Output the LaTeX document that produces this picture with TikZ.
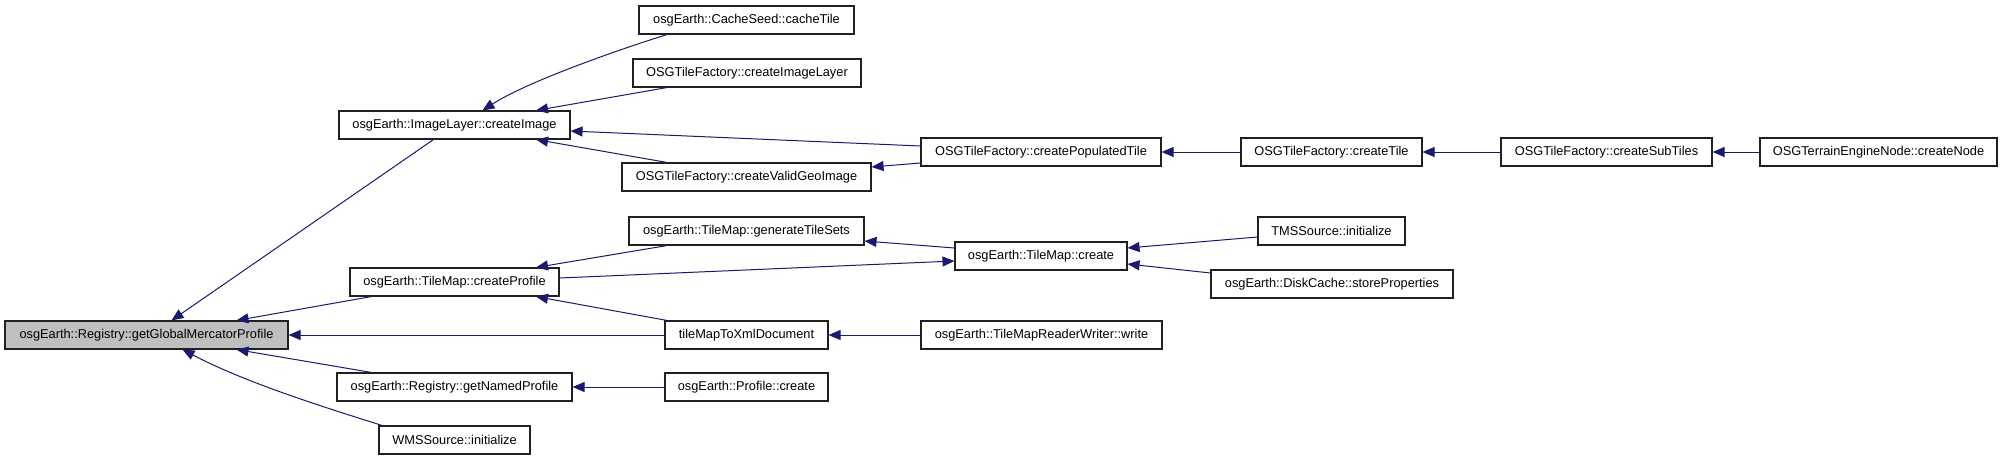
\documentclass[tikz,border=0pt]{standalone}
\usepackage{fontspec}
\setmainfont{Liberation Sans}
\usetikzlibrary{arrows.meta}
\definecolor{edgeblue}{HTML}{191970}
\definecolor{hlgray}{HTML}{BFBFBF}
\definecolor{boxline}{HTML}{202020}
\tikzset{
  fn/.style={draw=boxline, line width=1.1pt, rectangle, minimum height=28pt, inner sep=0pt, font=\fontsize{12.8}{14}\selectfont},
  fnhl/.style={fn, fill=hlgray},
  call/.style={draw=edgeblue, line width=1pt, -{Triangle[length=12pt,width=10pt]}}
}
\begin{document}
\begin{tikzpicture}[x=1pt,y=-1pt]
\useasboundingbox (0,0) rectangle (2003,460);
% column 0
\node[fnhl, minimum width=283pt] (gm) at (146.5,335) {osgEarth::Registry::getGlobalMercatorProfile};
% column 1
\node[fn, minimum width=231pt] (ci) at (454.5,125) {osgEarth::ImageLayer::createImage};
\node[fn, minimum width=209pt] (cp) at (454.5,282) {osgEarth::TileMap::createProfile};
\node[fn, minimum width=235pt] (gn) at (454.5,387) {osgEarth::Registry::getNamedProfile};
\node[fn, minimum width=151pt] (wms) at (454.5,440) {WMSSource::initialize};
% column 2
\node[fn, minimum width=215pt] (ct) at (746.5,20) {osgEarth::CacheSeed::cacheTile};
\node[fn, minimum width=228pt] (cil) at (747,73) {OSGTileFactory::createImageLayer};
\node[fn, minimum width=249pt] (cvg) at (746.5,177) {OSGTileFactory::createValidGeoImage};
\node[fn, minimum width=235pt] (gts) at (746.5,231) {osgEarth::TileMap::generateTileSets};
\node[fn, minimum width=163pt] (tmx) at (746.5,335) {tileMapToXmlDocument};
\node[fn, minimum width=163pt] (pc) at (746.5,387) {osgEarth::Profile::create};
% column 3
\node[fn, minimum width=240pt] (cpt) at (1041,152) {OSGTileFactory::createPopulatedTile};
\node[fn, minimum width=172pt] (tmc) at (1041,256) {osgEarth::TileMap::create};
\node[fn, minimum width=241pt] (wr) at (1041.5,335) {osgEarth::TileMapReaderWriter::write};
% column 4
\node[fn, minimum width=181pt] (ctile) at (1331.5,152) {OSGTileFactory::createTile};
\node[fn, minimum width=147pt] (tms) at (1331.5,231) {TMSSource::initialize};
\node[fn, minimum width=242pt] (dc) at (1332,284) {osgEarth::DiskCache::storeProperties};
% column 5,6
\node[fn, minimum width=211pt] (cst) at (1606.5,152) {OSGTileFactory::createSubTiles};
\node[fn, minimum width=237pt] (cn) at (1878.5,152) {OSGTerrainEngineNode::createNode};
% edges into getGlobalMercatorProfile
\draw[call] ([xshift=-21pt]ci.south) -- ([xshift=25pt]gm.north);
\draw[call] ([xshift=-83pt]cp.south) -- ([xshift=90pt]gm.north);
\draw[call] (tmx.west) -- (gm.east);
\draw[call] ([xshift=-83pt]gn.north) -- ([xshift=90pt]gm.south);
\draw[call] ([xshift=-72.5pt]wms.north) .. controls (340,412) and (250,385) .. ([xshift=36pt]gm.south);
% edges into createImage
\draw[call] ([xshift=-79.5pt]ct.south) .. controls (627,47) and (530,80) .. ([xshift=28pt]ci.north);
\draw[call] ([xshift=-80pt]cil.south) -- ([xshift=81.5pt]ci.north);
\draw[call] ([yshift=6pt]cpt.west) -- ([yshift=-6pt]ci.east);
\draw[call] ([xshift=-79.5pt]cvg.north) -- ([xshift=81.5pt]ci.south);
\draw[call] ([yshift=-11pt]cpt.west) -- ([yshift=10pt]cvg.east);
% tile chain
\draw[call] (ctile.west) -- (cpt.east);
\draw[call] (cst.west) -- (ctile.east);
\draw[call] (cn.west) -- (cst.east);
% createProfile group
\draw[call] ([xshift=-79.5pt]gts.south) -- ([xshift=81.5pt]cp.north);
\draw[call] ([yshift=4pt]cp.east) -- ([yshift=-5pt]tmc.west);
\draw[call] ([yshift=8pt]tmc.west) -- ([yshift=-10pt]gts.east);
\draw[call] ([xshift=-79.5pt]tmx.north) -- ([xshift=81.5pt]cp.south);
\draw[call] ([yshift=-6pt]tms.west) -- ([yshift=8pt]tmc.east);
\draw[call] ([yshift=11pt]dc.west) -- ([yshift=-8pt]tmc.east);
\draw[call] (wr.west) -- (tmx.east);
\draw[call] (pc.west) -- (gn.east);
\end{tikzpicture}
\end{document}
